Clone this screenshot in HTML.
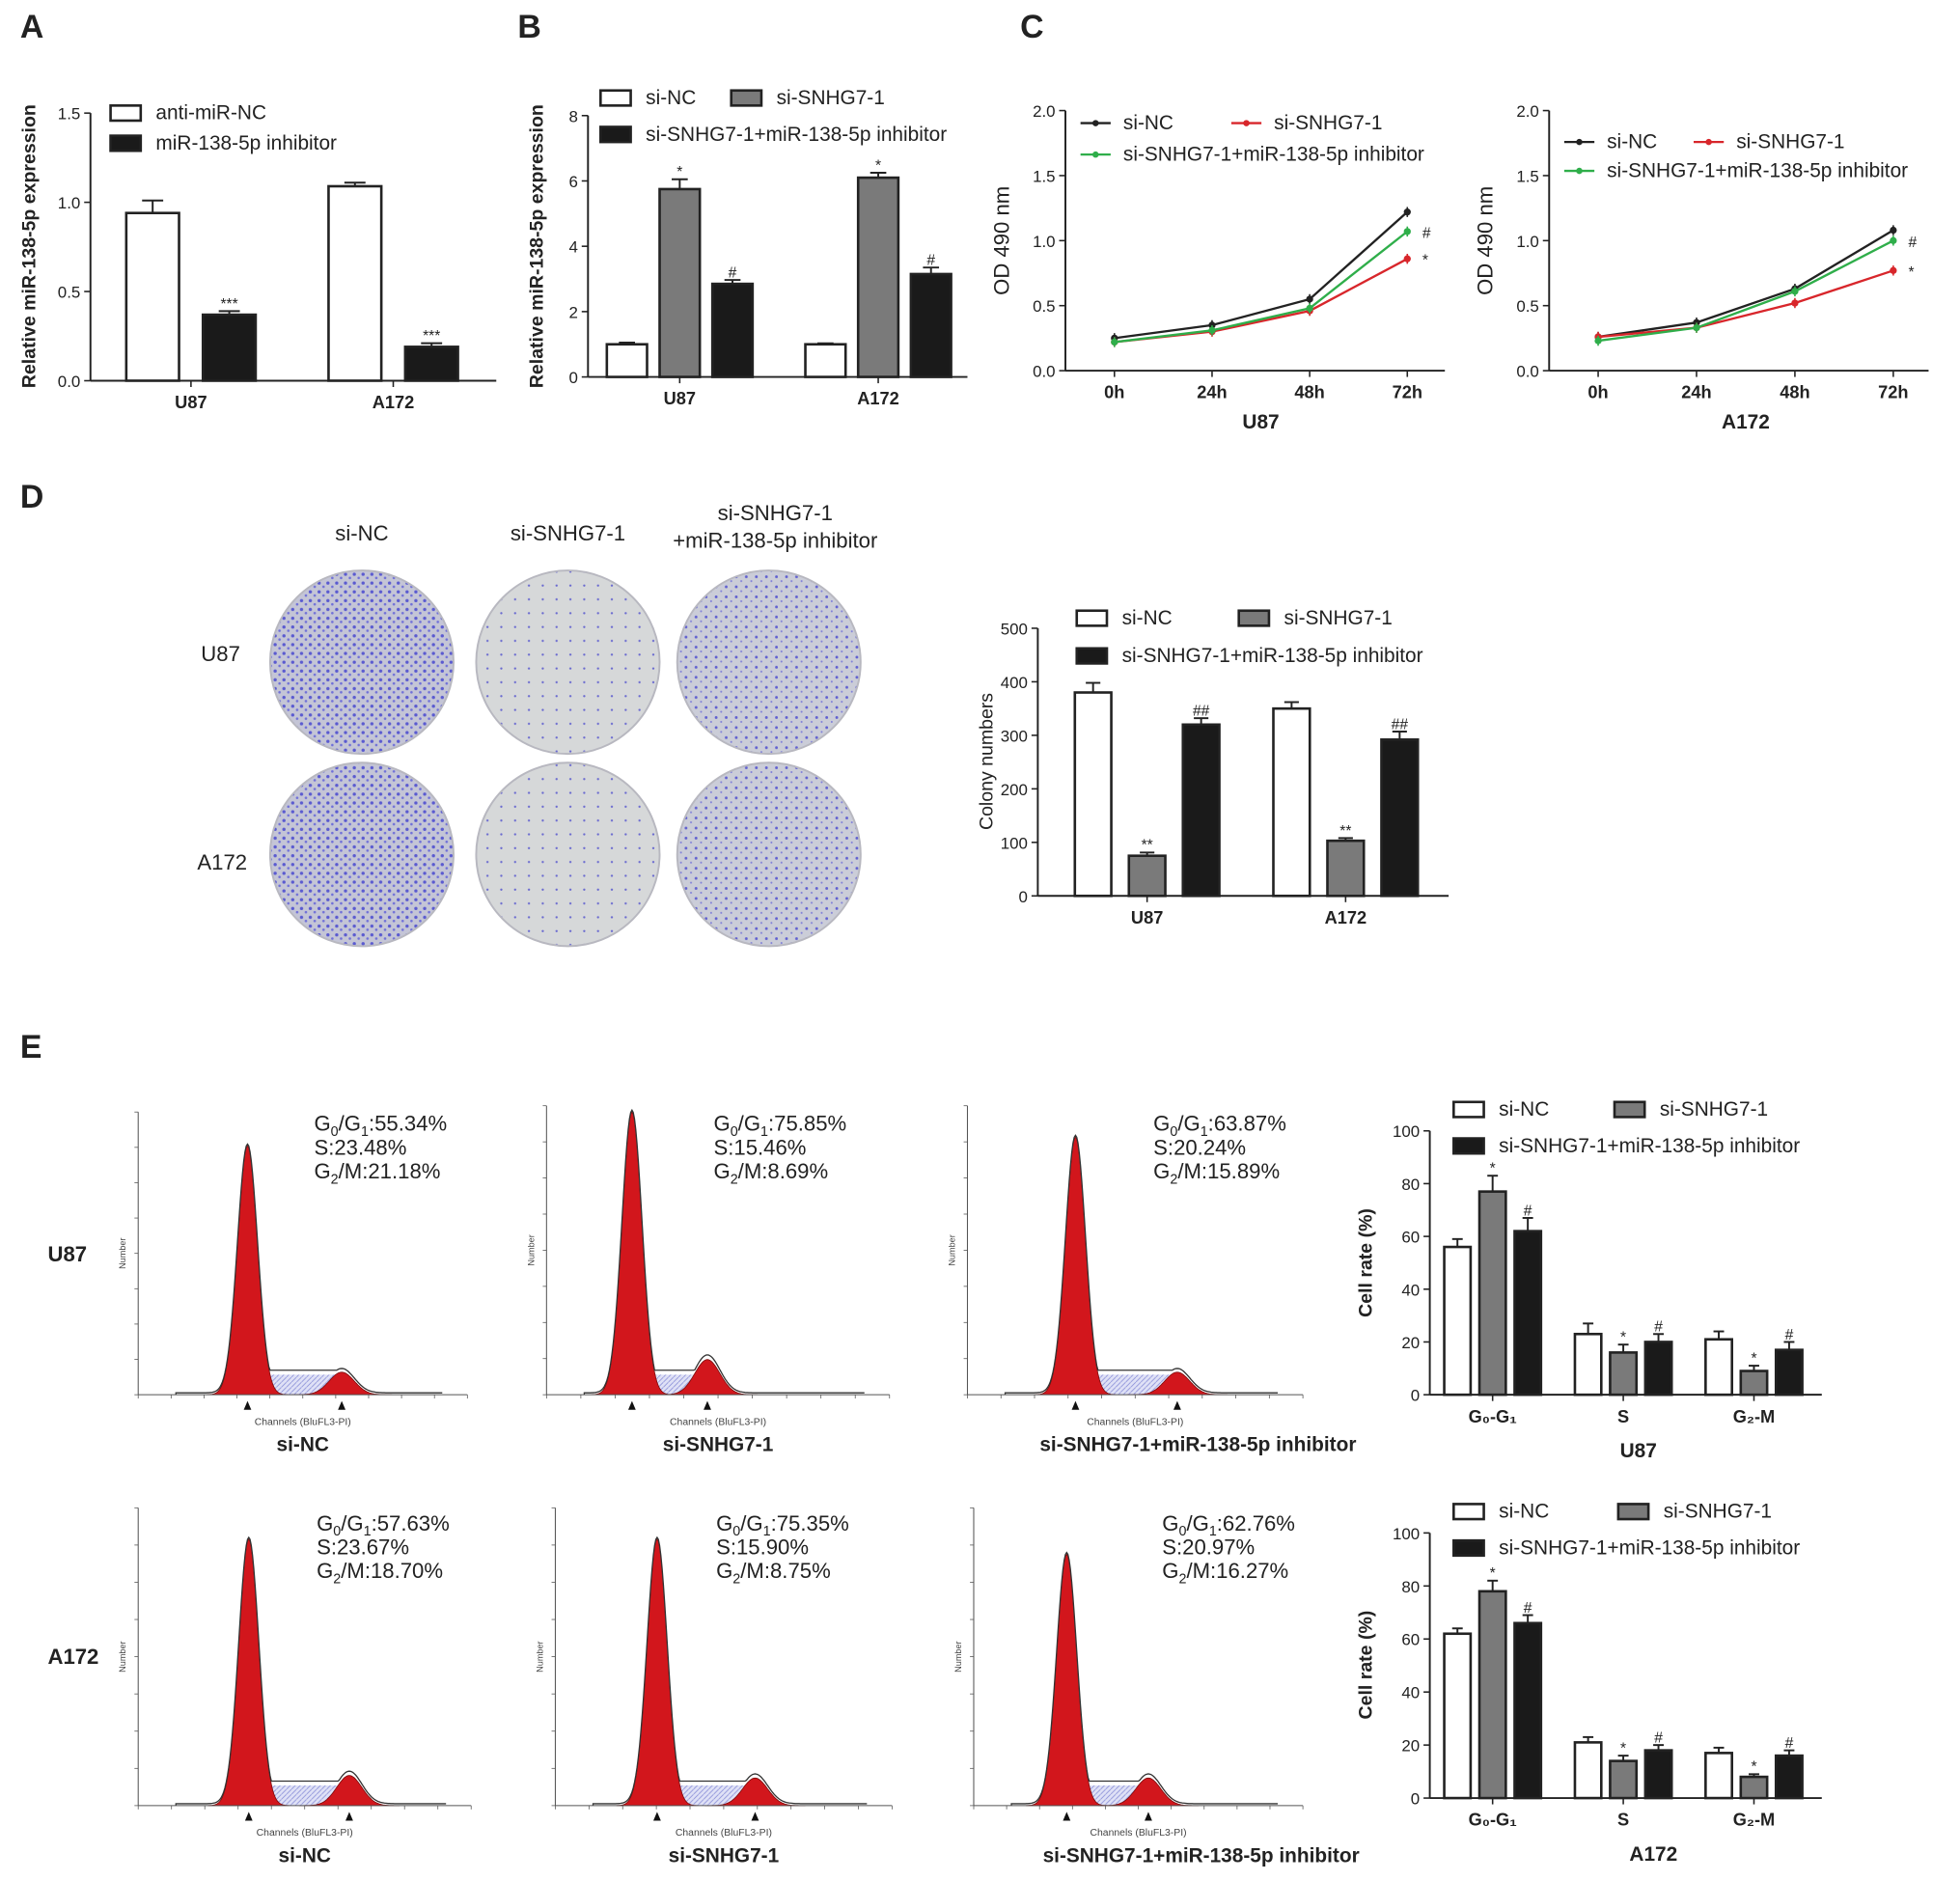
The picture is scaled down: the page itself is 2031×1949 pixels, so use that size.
<!DOCTYPE html>
<html><head><meta charset="utf-8">
<style>
html,body{margin:0;padding:0;background:#fff;}
svg{display:block;font-family:"Liberation Sans",Arial,sans-serif;}
</style></head>
<body>
<svg id="fig" width="2031" height="1949" viewBox="0 0 1560 1497" preserveAspectRatio="none" xmlns="http://www.w3.org/2000/svg">
<defs>
<pattern id="dense" width="7" height="7" patternUnits="userSpaceOnUse"><rect width="7" height="7" fill="#c4c5d6"/><circle cx="2" cy="2" r="1.3" fill="#5a5ad0"/><circle cx="5.5" cy="5" r="1" fill="#7070d8"/></pattern>
<pattern id="sparse" width="11" height="11" patternUnits="userSpaceOnUse"><rect width="11" height="11" fill="#d6d8d9"/><circle cx="3" cy="4" r="0.9" fill="#6a6ad0"/></pattern>
<pattern id="mid" width="8" height="8" patternUnits="userSpaceOnUse"><rect width="8" height="8" fill="#cbcdd8"/><circle cx="2" cy="3" r="1.1" fill="#6060d0"/><circle cx="6" cy="6.5" r="0.8" fill="#8080d8"/></pattern>
<pattern id="hatch" width="4" height="4" patternUnits="userSpaceOnUse"><rect width="4" height="4" fill="#dfe1f6"/><path d="M0 4L4 0" stroke="#8a8fd8" stroke-width="0.6"/></pattern>
</defs>
<g id="root"></g>
</svg>
<script>
// ---------- DATA ----------
const aCategories = ["U87","A172"];
const aAntiNC = [0.94,1.09];
const aAntiNCErr = [0.07,0.02];
const aInhibitor = [0.37,0.19];
const aInhibitorErr = [0.02,0.02];
const aTicks = ["0.0","0.5","1.0","1.5"];

const bCategories = ["U87","A172"];
const bSiNC = [1.0,1.0];
const bSiSNHG = [5.75,6.1];
const bCombo = [2.85,3.15];
const bErr = [0.3,0.2,0.15];
const bTicks = ["0","2","4","6","8"];

const cTimes = ["0h","24h","48h","72h"];
const cU87NC = [0.25,0.35,0.55,1.22];
const cU87Si = [0.22,0.30,0.46,0.86];
const cU87Combo = [0.22,0.31,0.48,1.07];
const cA172NC = [0.26,0.37,0.63,1.08];
const cA172Si = [0.26,0.33,0.52,0.77];
const cA172Combo = [0.23,0.33,0.61,1.0];
const cTicks = ["0.0","0.5","1.0","1.5","2.0"];

const dCategories = ["U87","A172"];
const dSiNC = [380,350];
const dSiSNHG = [75,103];
const dCombo = [320,292];
const dTicks = ["0","100","200","300","400","500"];

const ePhases = ["G\u2080-G\u2081","S","G\u2082-M"];
const eU87NC = [56,23,21];
const eU87Si = [77,16,9];
const eU87Combo = [62,20,17];
const eA172NC = [62,21,17];
const eA172Si = [78,14,8];
const eA172Combo = [66,18,16];
const eTicks = ["0","20","40","60","80","100"];

// ---------- HELPERS ----------
const NS="http://www.w3.org/2000/svg";
const root=document.getElementById('root');
function mk(tag,attrs,name,parent,text){
  const el=document.createElementNS(NS,tag);
  for(const k in attrs) el.setAttribute(k,attrs[k]);
  
  
  if(text!==undefined) el.textContent=text;
  (parent||root).appendChild(el);
  return el;
}
function txt(x,y,s,size,name,opt){
  opt=opt||{};
  const a={x:x,y:y,'font-size':size,fill:opt.fill||'#222','text-anchor':opt.anchor||'start'};
  if(opt.bold) a['font-weight']='bold';
  if(opt.rot) a.transform='rotate(-90 '+x+' '+y+')';
  return mk('text',a,name,opt.parent,s);
}
function line(x1,y1,x2,y2,name,w,col,p){
  return mk('line',{x1:x1,y1:y1,x2:x2,y2:y2,stroke:col||'#222','stroke-width':w||1.5},name,p);
}

function barChart(cfg){
  const g=mk('g',{},cfg.name);
  const ys=v=>cfg.y0-(v/cfg.max)*(cfg.y0-cfg.yTop);
  line(cfg.axisX,cfg.yTop,cfg.axisX,cfg.y0,'y-axis',1.5,'#222',g);
  line(cfg.axisX,cfg.y0,cfg.axisEnd,cfg.y0,'x-axis',1.5,'#222',g);
  cfg.ticks.forEach((t,i)=>{
    const v=i*cfg.max/(cfg.ticks.length-1);
    line(cfg.axisX-5,ys(v),cfg.axisX,ys(v),'y-tick',1.2,'#222',g);
    txt(cfg.axisX-8,ys(v)+5,t,cfg.tickSize||13,'y-tick-label',{anchor:'end',parent:g});
  });
  const ns=cfg.series.length;
  cfg.categories.forEach((c,gi)=>{
    const cx=cfg.x0+gi*cfg.gap;
    line(cx,cfg.y0,cx,cfg.y0+5,'x-tick',1.2,'#222',g);
    txt(cx,cfg.y0+22,c,cfg.catSize||14,'x-tick-label',{anchor:'middle',bold:true,parent:g});
    cfg.series.forEach((s,si)=>{
      const bx=cx+(si-(ns-1)/2)*cfg.step-cfg.barW/2;
      const v=s.values[gi], top=ys(v);
      const e=(s.err?s.err[gi]:cfg.defErr)||0;
      const et=ys(v+e);
      line(bx+cfg.barW/2,top,bx+cfg.barW/2,et,'error-bar',1.5,'#222',g);
      line(bx+cfg.barW/2-cfg.barW*0.2,et,bx+cfg.barW/2+cfg.barW*0.2,et,'error-cap',1.5,'#222',g);
      mk('rect',{x:bx,y:top,width:cfg.barW,height:cfg.y0-top,fill:s.color,stroke:'#222','stroke-width':2},'bar-'+s.key+'-'+c,g);
      if(s.marks&&s.marks[gi]) txt(bx+cfg.barW/2,et-2,s.marks[gi],12,'significance-mark',{anchor:'middle',parent:g});
    });
  });
  cfg.legend.forEach(l=>{
    mk('rect',{x:l.x,y:l.y-11,width:l.w||24,height:12,fill:l.color,stroke:'#222','stroke-width':2},'legend-swatch',g);
    txt(l.x+(l.w||24)+12,l.y,l.label,cfg.legSize||16,'legend-label',{parent:g});
  });
  txt(cfg.titleX,cfg.titleY,cfg.title,cfg.titleSize||15,'y-axis-title',{anchor:'middle',rot:true,bold:cfg.titleBold,parent:g});
  if(cfg.xTitle) txt(cfg.xTitleX,cfg.xTitleY,cfg.xTitle,16,'x-axis-title',{anchor:'middle',bold:true,parent:g});
  return g;
}

function lineChart(cfg){
  const g=mk('g',{},cfg.name);
  const ys=v=>cfg.y0-(v/2)*(cfg.y0-cfg.yTop);
  const xs=i=>cfg.x0+i*cfg.gap;
  line(cfg.axisX,cfg.yTop,cfg.axisX,cfg.y0,'y-axis',1.5,'#222',g);
  line(cfg.axisX,cfg.y0,cfg.axisEnd,cfg.y0,'x-axis',1.5,'#222',g);
  cTicks.forEach((t,i)=>{
    const v=i*0.5;
    line(cfg.axisX-5,ys(v),cfg.axisX,ys(v),'y-tick',1.2,'#222',g);
    txt(cfg.axisX-8,ys(v)+5,t,13,'y-tick-label',{anchor:'end',parent:g});
  });
  cTimes.forEach((t,i)=>{
    line(xs(i),cfg.y0,xs(i),cfg.y0+5,'x-tick',1.2,'#222',g);
    txt(xs(i),cfg.y0+22,t,14,'x-tick-label',{anchor:'middle',bold:true,parent:g});
  });
  cfg.series.forEach(s=>{
    const pts=s.values.map((v,i)=>xs(i)+','+ys(v)).join(' ');
    mk('polyline',{points:pts,fill:'none',stroke:s.color,'stroke-width':1.8},'line-'+s.key,g);
    s.values.forEach((v,i)=>{
      mk('circle',{cx:xs(i),cy:ys(v),r:2.8,fill:s.color},'point-'+s.key,g);
      line(xs(i),ys(v)-4,xs(i),ys(v)+4,'error-bar',1.2,s.color,g);
    });
    if(s.mark) txt(xs(3)+12,ys(s.values[3])+5,s.mark,12,'significance-mark',{parent:g});
  });
  cfg.legend.forEach(l=>{
    line(l.x,l.y-5,l.x+24,l.y-5,'legend-line',1.8,l.color,g);
    mk('circle',{cx:l.x+12,cy:l.y-5,r:2.5,fill:l.color},'legend-marker',g);
    txt(l.x+34,l.y,l.label,16,'legend-label',{parent:g});
  });
  txt(cfg.axisX-45,(cfg.yTop+cfg.y0)/2,'OD 490 nm',17,'y-axis-title',{anchor:'middle',rot:true,parent:g});
  txt((cfg.x0+xs(3))/2,cfg.y0+46,cfg.xTitle,16,'x-axis-title',{anchor:'middle',bold:true,parent:g});
}

[['A',16,30],['B',412,30],['C',812,30],['D',16,404],['E',16,842]].forEach(p=>txt(p[1],p[2],p[0],26,'panel-label-'+p[0].toLowerCase(),{bold:true}));

barChart({name:'panel-a-chart',axisX:72,axisEnd:395,y0:303,yTop:90,max:1.5,ticks:aTicks,categories:aCategories,
  x0:152,gap:161,barW:42,step:61,
  series:[{key:'anti-mir-nc',values:aAntiNC,err:aAntiNCErr,color:'#fff'},
          {key:'inhibitor',values:aInhibitor,err:aInhibitorErr,color:'#1a1a1a',marks:['***','***']}],
  legend:[{x:88,y:95,color:'#fff',label:'anti-miR-NC'},{x:88,y:119,color:'#1a1a1a',label:'miR-138-5p inhibitor'}],
  title:'Relative miR-138-5p expression',titleX:28,titleY:196,titleBold:true});

barChart({name:'panel-b-chart',axisX:468,axisEnd:770,y0:300,yTop:92,max:8,ticks:bTicks,categories:bCategories,
  x0:541,gap:158,barW:32,step:42,
  series:[{key:'si-nc',values:bSiNC,err:[0.05,0.03],color:'#fff'},
          {key:'si-snhg7-1',values:bSiSNHG,err:[0.3,0.15],color:'#7a7a7a',marks:['*','*']},
          {key:'si-snhg7-1-inhibitor',values:bCombo,err:[0.12,0.2],color:'#1a1a1a',marks:['#','#']}],
  legend:[{x:478,y:83,color:'#fff',label:'si-NC'},{x:582,y:83,color:'#7a7a7a',label:'si-SNHG7-1'},{x:478,y:112,color:'#1a1a1a',label:'si-SNHG7-1+miR-138-5p inhibitor'}],
  title:'Relative miR-138-5p expression',titleX:432,titleY:196,titleBold:true});

lineChart({name:'panel-c-u87-chart',axisX:848,axisEnd:1150,y0:295,yTop:88,x0:887,gap:77.7,xTitle:'U87',
  series:[{key:'si-nc',values:cU87NC,color:'#222'},{key:'si-snhg7-1',values:cU87Si,color:'#d8262b',mark:'*'},{key:'combo',values:cU87Combo,color:'#2fae4a',mark:'#'}],
  legend:[{x:860,y:103,color:'#222',label:'si-NC'},{x:980,y:103,color:'#d8262b',label:'si-SNHG7-1'},{x:860,y:128,color:'#2fae4a',label:'si-SNHG7-1+miR-138-5p inhibitor'}]});
lineChart({name:'panel-c-a172-chart',axisX:1233,axisEnd:1535,y0:295,yTop:88,x0:1272,gap:78.3,xTitle:'A172',
  series:[{key:'si-nc',values:cA172NC,color:'#222'},{key:'si-snhg7-1',values:cA172Si,color:'#d8262b',mark:'*'},{key:'combo',values:cA172Combo,color:'#2fae4a',mark:'#'}],
  legend:[{x:1245,y:118,color:'#222',label:'si-NC'},{x:1348,y:118,color:'#d8262b',label:'si-SNHG7-1'},{x:1245,y:141,color:'#2fae4a',label:'si-SNHG7-1+miR-138-5p inhibitor'}]});

txt(288,430,'si-NC',17,'plate-col-label',{anchor:'middle'});
txt(452,430,'si-SNHG7-1',17,'plate-col-label',{anchor:'middle'});
txt(617,414,'si-SNHG7-1',17,'plate-col-label',{anchor:'middle'});
txt(617,436,'+miR-138-5p inhibitor',17,'plate-col-label',{anchor:'middle'});
txt(160,526,'U87',17,'plate-row-label');
txt(157,692,'A172',17,'plate-row-label');
[[288,527,'dense'],[452,527,'sparse'],[612,527,'mid'],[288,680,'dense'],[452,680,'sparse'],[612,680,'mid']].forEach(p=>{
  mk('circle',{cx:p[0],cy:p[1],r:73,fill:'url(#'+p[2]+')',stroke:'#b8b8c0','stroke-width':1.5},'colony-plate');
});

barChart({name:'panel-d-chart',axisX:826,axisEnd:1153,y0:713,yTop:500,max:500,ticks:dTicks,categories:dCategories,
  x0:913,gap:158,barW:29,step:43,
  series:[{key:'si-nc',values:dSiNC,err:[18,12],color:'#fff'},
          {key:'si-snhg7-1',values:dSiSNHG,err:[6,5],color:'#7a7a7a',marks:['**','**']},
          {key:'combo',values:dCombo,err:[12,15],color:'#1a1a1a',marks:['##','##']}],
  legend:[{x:857,y:497,color:'#fff',label:'si-NC'},{x:986,y:497,color:'#7a7a7a',label:'si-SNHG7-1'},{x:857,y:527,color:'#1a1a1a',label:'si-SNHG7-1+miR-138-5p inhibitor'}],
  title:'Colony numbers',titleX:790,titleY:606});

const histCfg=[
 {x0:110,x1:372,base:1110,top:885,p1:197,t1:912,p2:272,t2:1092,lab:'si-NC',tx:250,ty:900,vals:['55.34%','23.48%','21.18%']},
 {x0:435,x1:708,base:1110,top:880,p1:503,t1:885,p2:563,t2:1082,lab:'si-SNHG7-1',tx:568,ty:900,vals:['75.85%','15.46%','8.69%']},
 {x0:770,x1:1037,base:1110,top:880,p1:856,t1:905,p2:937,t2:1092,lab:'si-SNHG7-1+miR-138-5p inhibitor',tx:918,ty:900,vals:['63.87%','20.24%','15.89%']},
 {x0:110,x1:375,base:1437,top:1200,p1:198,t1:1225,p2:278,t2:1413,lab:'si-NC',tx:252,ty:1218,vals:['57.63%','23.67%','18.70%']},
 {x0:442,x1:710,base:1437,top:1200,p1:523,t1:1225,p2:601,t2:1415,lab:'si-SNHG7-1',tx:570,ty:1218,vals:['75.35%','15.90%','8.75%']},
 {x0:775,x1:1037,base:1437,top:1200,p1:849,t1:1237,p2:914,t2:1415,lab:'si-SNHG7-1+miR-138-5p inhibitor',tx:925,ty:1218,vals:['62.76%','20.97%','16.27%']}
];
histCfg.forEach((h,hi)=>{
  const g=mk('g',{},'flow-histogram-'+(hi+1));
  const gauss=(c,s,H,x)=>H*Math.exp(-Math.pow((x-c)/s,2)/2);
  const H1=h.base-h.t1,H2=h.base-h.t2,s1=8,s2=10;
  let pl='M'+(h.p1)+','+h.base;
  for(let x=h.p1;x<=h.p2;x+=2){pl+=' L'+x+','+(h.base-16);}
  pl+=' L'+h.p2+','+h.base+'Z';
  mk('path',{d:pl,fill:'url(#hatch)'},'s-phase-area',g);
  [[h.p1,s1,H1],[h.p2,s2,H2]].forEach((p,pi)=>{
    let d='M'+(p[0]-4*p[1])+','+h.base;
    for(let x=p[0]-4*p[1];x<=p[0]+4*p[1];x+=1){d+=' L'+x+','+(h.base-gauss(p[0],p[1],p[2],x)).toFixed(1);}
    d+=' Z';
    mk('path',{d:d,fill:'#d2161c',stroke:'#7a0a0a','stroke-width':0.6},pi?'g2m-peak':'g0g1-peak',g);
  });
  let o='M'+(h.x0+30)+','+h.base;
  for(let x=h.x0+30;x<=h.x1-20;x+=1){
    let y=gauss(h.p1,s1,H1,x)+gauss(h.p2,s2,H2*1.08,x);
    if(x>h.p1&&x<h.p2) y=Math.max(y,18);
    y+=1.5;
    o+=' L'+x+','+(h.base-y).toFixed(1);
  }
  mk('path',{d:o,fill:'none',stroke:'#333','stroke-width':1},'histogram-outline',g);
  line(h.x0,h.top,h.x0,h.base,'hist-y-axis',0.8,'#555',g);
  line(h.x0,h.base,h.x1,h.base,'hist-x-axis',0.8,'#555',g);
  for(let i=0;i<=10;i++){const x=h.x0+i*(h.x1-h.x0)/10;line(x,h.base,x,h.base+3,'hist-x-tick',0.6,'#555',g);}
  for(let i=0;i<=8;i++){const y=h.base-i*(h.base-h.top)/8;line(h.x0-3,y,h.x0,y,'hist-y-tick',0.6,'#555',g);}
  txt(h.x0-10,(h.top+h.base)/2,'Number',7,'hist-y-title',{anchor:'middle',rot:true,parent:g,fill:'#444'});
  txt((h.x0+h.x1)/2,h.base+24,'Channels (BluFL3-PI)',8,'hist-x-title',{anchor:'middle',parent:g,fill:'#444'});
  mk('path',{d:'M'+(h.p1-3)+','+(h.base+12)+' l3,-7 l3,7z',fill:'#111'},'peak-marker',g);
  mk('path',{d:'M'+(h.p2-3)+','+(h.base+12)+' l3,-7 l3,7z',fill:'#111'},'peak-marker',g);
  txt((h.x0+h.x1)/2+ (hi%3===2?50:0),h.base+45,h.lab,16,'histogram-label',{anchor:'middle',bold:true,parent:g});
  const t1=mk('text',{x:h.tx,y:h.ty,'font-size':17,fill:'#222'},'g0g1-percent',g);
  t1.innerHTML='G<tspan font-size="11" dy="4">0</tspan><tspan dy="-4">/G</tspan><tspan font-size="11" dy="4">1</tspan><tspan dy="-4">:'+h.vals[0]+'</tspan>';
  txt(h.tx,h.ty+19,'S:'+h.vals[1],17,'s-percent',{parent:g});
  const t3=mk('text',{x:h.tx,y:h.ty+38,'font-size':17,fill:'#222'},'g2m-percent',g);
  t3.innerHTML='G<tspan font-size="11" dy="4">2</tspan><tspan dy="-4">/M:'+h.vals[2]+'</tspan>';
});
txt(38,1004,'U87',17,'row-label-u87',{bold:true});
txt(38,1324,'A172',17,'row-label-a172',{bold:true});

barChart({name:'panel-e-u87-chart',axisX:1138,axisEnd:1450,y0:1110,yTop:900,max:100,ticks:eTicks,categories:ePhases,
  x0:1188,gap:104,barW:21,step:28,catSize:14,
  series:[{key:'si-nc',values:eU87NC,err:[3,4,3],color:'#fff'},
          {key:'si-snhg7-1',values:eU87Si,err:[6,3,2],color:'#7a7a7a',marks:['*','*','*']},
          {key:'combo',values:eU87Combo,err:[5,3,3],color:'#1a1a1a',marks:['#','#','#']}],
  legend:[{x:1157,y:888,color:'#fff',label:'si-NC'},{x:1285,y:888,color:'#7a7a7a',label:'si-SNHG7-1'},{x:1157,y:917,color:'#1a1a1a',label:'si-SNHG7-1+miR-138-5p inhibitor'}],
  title:'Cell rate (%)',titleX:1092,titleY:1005,titleBold:true,xTitle:'U87',xTitleX:1304,xTitleY:1160});
barChart({name:'panel-e-a172-chart',axisX:1138,axisEnd:1450,y0:1431,yTop:1220,max:100,ticks:eTicks,categories:ePhases,
  x0:1188,gap:104,barW:21,step:28,catSize:14,
  series:[{key:'si-nc',values:eA172NC,err:[2,2,2],color:'#fff'},
          {key:'si-snhg7-1',values:eA172Si,err:[4,2,1],color:'#7a7a7a',marks:['*','*','*']},
          {key:'combo',values:eA172Combo,err:[3,2,2],color:'#1a1a1a',marks:['#','#','#']}],
  legend:[{x:1157,y:1208,color:'#fff',label:'si-NC'},{x:1288,y:1208,color:'#7a7a7a',label:'si-SNHG7-1'},{x:1157,y:1237,color:'#1a1a1a',label:'si-SNHG7-1+miR-138-5p inhibitor'}],
  title:'Cell rate (%)',titleX:1092,titleY:1325,titleBold:true,xTitle:'A172',xTitleX:1316,xTitleY:1481});
</script>
</body></html>
